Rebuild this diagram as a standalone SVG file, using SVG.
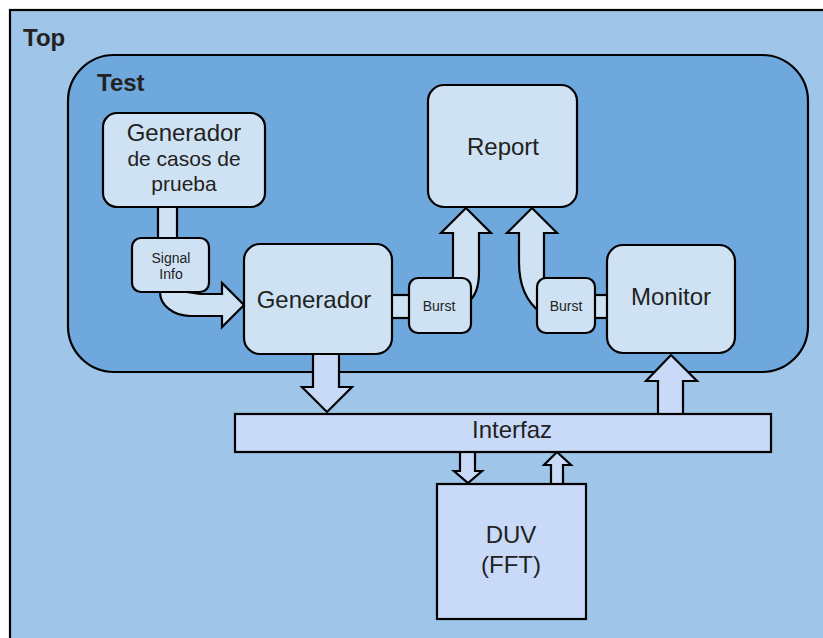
<svg xmlns="http://www.w3.org/2000/svg" width="823" height="638" viewBox="0 0 823 638">
  <style>
    text { font-family: "Liberation Sans", Arial, sans-serif; fill: #222; text-anchor: middle; }
    .lbl { font-weight: bold; text-anchor: start; font-size: 24px; }
    .big { font-size: 24px; }
    .mid { font-size: 21px; }
    .sm { font-size: 14px; }
    .box { fill: #cfe2f3; stroke: #000; stroke-width: 2.2; }
    .bus { fill: #c9daf8; stroke: #000; stroke-width: 2.2; }
    .arr { fill: #cfe2f3; stroke: #000; stroke-width: 2.2; stroke-linejoin: miter; }
    .arr2 { fill: #c9daf8; stroke: #000; stroke-width: 2.2; stroke-linejoin: miter; }
  </style>

  <rect width="823" height="638" fill="#ffffff"/>

  <!-- outer container -->
  <g id="top">
    <rect x="10" y="10" width="840" height="660" fill="#9fc5e8" stroke="#000" stroke-width="2.2"/>
    <text class="lbl" x="23" y="46">Top</text>
  </g>

  <!-- test environment -->
  <g id="test">
    <rect x="68" y="55" width="740" height="317" rx="46" ry="46" fill="#6fa8dc" stroke="#000" stroke-width="2.2"/>
    <text class="lbl" x="97" y="91">Test</text>
  </g>

  <!-- connectors -->
  <g id="connectors">
    <!-- generador de casos -> signal info -->
    <rect class="arr" x="158" y="205" width="19" height="35"/>
    <!-- signal info -> generador (curved) -->
    <path class="arr" d="M160 288 L160 292 A30 24 0 0 0 190 316 L222 316 L222 327 L244 305 L222 283 L222 294 L200 294 Z"/>
    <!-- generador <-> burst -->
    <rect class="arr" x="390" y="295" width="21" height="23"/>
    <!-- burst -> report (left) -->
    <path class="arr" d="M468 302 Q479 294 479 272 L479 233 L491 233 L466 208 L441 233 L453 233 L453 282 Z"/>
    <!-- burst -> report (right) -->
    <path class="arr" d="M540 312 Q519 296 519 262 L519 233 L507 233 L532 208 L557 233 L544 233 L544 282 Z"/>
    <!-- monitor <-> burst -->
    <rect class="arr" x="593" y="295" width="16" height="23"/>
    <!-- generador -> interfaz -->
    <path class="arr2" d="M313 350 L313 387 L302 387 L327 412 L352 387 L339 387 L339 350 Z"/>
    <!-- interfaz -> monitor -->
    <path class="arr2" d="M658 418 L658 381 L646 381 L671 355 L697 381 L683 381 L683 418 Z"/>
    <!-- interfaz -> duv -->
    <path class="arr2" d="M460 450 L460 471 L454 471 L468 483 L482 471 L475 471 L475 450 Z"/>
    <!-- duv -> interfaz -->
    <path class="arr2" d="M551 487 L551 465 L544 465 L557 452 L571 465 L563 465 L563 487 Z"/>
  </g>

  <g id="gen-casos">
    <rect class="box" x="103" y="113" width="162" height="94" rx="14"/>
    <text class="big" x="184" y="141">Generador</text>
    <text class="mid" x="184" y="166">de casos de</text>
    <text class="mid" x="184" y="191">prueba</text>
  </g>

  <g id="signal-info">
    <rect class="box" x="132" y="238" width="77" height="54" rx="9"/>
    <text class="sm" x="171" y="263">Signal</text>
    <text class="sm" x="171" y="279">Info</text>
  </g>

  <g id="generador">
    <rect class="box" x="244" y="244" width="148" height="110" rx="16"/>
    <text class="big" x="314" y="308">Generador</text>
  </g>

  <g id="burst-gen">
    <rect class="box" x="409" y="278" width="62" height="55" rx="9"/>
    <text class="sm" x="439" y="311">Burst</text>
  </g>

  <g id="report">
    <rect class="box" x="428" y="85" width="149" height="122" rx="16"/>
    <text class="big" x="503" y="155">Report</text>
  </g>

  <g id="burst-mon">
    <rect class="box" x="537" y="278" width="58" height="55" rx="9"/>
    <text class="sm" x="566" y="311">Burst</text>
  </g>

  <g id="monitor">
    <rect class="box" x="607" y="245" width="128" height="108" rx="16"/>
    <text class="big" x="671" y="305">Monitor</text>
  </g>

  <g id="interfaz">
    <rect class="bus" x="235" y="414" width="536" height="38"/>
    <text class="big" x="512" y="438">Interfaz</text>
  </g>

  <g id="duv">
    <rect class="bus" x="437" y="484" width="149" height="135"/>
    <text class="big" x="511" y="543">DUV</text>
    <text class="big" x="511" y="573">(FFT)</text>
  </g>
</svg>
